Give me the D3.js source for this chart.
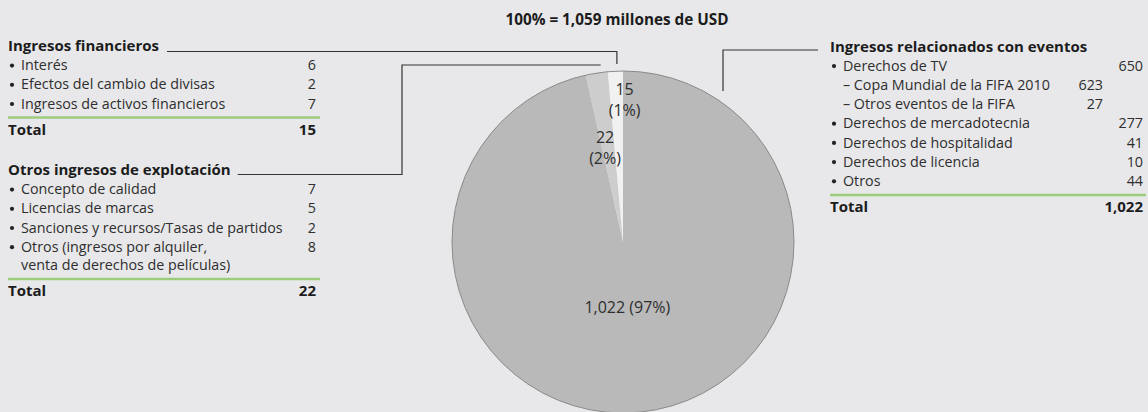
<!DOCTYPE html>
<html><head><meta charset="utf-8">
<script src="https://cdn.jsdelivr.net/npm/d3@7/dist/d3.min.js"></script>
<style>
html,body{margin:0;padding:0;background:#e8e8ea;}
svg{display:block;font-family:"Open Sans",sans-serif;}
</style></head>
<body><svg id="c" width="1148" height="412"></svg>
<script>
// ---- data ----
const title = "100% = 1,059 millones de USD";
const sliceNames = ["Ingresos relacionados con eventos", "Otros ingresos de explotación", "Ingresos financieros"];
const sliceValues = [1022, 22, 15];
const sliceValueLabels = ["1,022", "22", "15"];
const slicePcts = ["97%", "2%", "1%"];
const sliceColors = ["#b9b9b9", "#cdcdcd", "#f1f1f1"];

const finItems = ["Interés", "Efectos del cambio de divisas", "Ingresos de activos financieros"];
const finValues = ["6", "2", "7"];
const finTotal = "15";

const otrosItems = ["Concepto de calidad", "Licencias de marcas", "Sanciones y recursos/Tasas de partidos", "Otros (ingresos por alquiler,|venta de derechos de películas)"];
const otrosValues = ["7", "5", "2", "8"];
const otrosTotal = "22";

const eventItems = ["Derechos de TV", "Derechos de mercadotecnia", "Derechos de hospitalidad", "Derechos de licencia", "Otros"];
const eventValues = ["650", "277", "41", "10", "44"];
const tvSubItems = ["Copa Mundial de la FIFA 2010", "Otros eventos de la FIFA"];
const tvSubValues = ["623", "27"];
const eventTotal = "1,022";
const totalLabel = "Total";

// ---- drawing ----
const svg = d3.select("#c");
const cx = 623, cy = 242, R = 171;
const step = 19.2;
const textCol = "#2e2e2e", boldCol = "#1c1c1c", green = "#9ccd7c", lineCol = "#333";
const fs = 14.3, fsB = 15, fsTitle = 15.3, fsPie = 16;

svg.append("text").attr("x", 617).attr("y", 25).attr("text-anchor", "middle")
  .attr("font-weight", "bold").attr("font-size", fsTitle).attr("fill", boldCol).text(title);

// pie
const pie = d3.pie().sort(null).value(d => d)(sliceValues);
const arc = d3.arc().innerRadius(0).outerRadius(R);
const g = svg.append("g").attr("transform", `translate(${cx},${cy})`);
g.selectAll("path.s").data(pie).join("path").attr("class", "s")
  .attr("d", arc).attr("fill", (d, i) => sliceColors[i]);
g.append("circle").attr("r", R).attr("fill", "none").attr("stroke", "#8a8a8a").attr("stroke-width", 1);

// pie labels
const labelArcs = [
  d3.arc().innerRadius(R * 0.39).outerRadius(R * 0.39),
  d3.arc().innerRadius(R * 0.57).outerRadius(R * 0.57),
  d3.arc().innerRadius(R * 0.84).outerRadius(R * 0.84)
];
const nudges = [[-3, 0], [-3, 2], [8, 1]];
pie.forEach((d, i) => {
  const [x, y] = labelArcs[i].centroid(d);
  const t = g.append("text").attr("text-anchor", "middle").attr("font-size", fsPie).attr("fill", textCol);
  if (i === 0) {
    t.attr("x", x + nudges[i][0]).attr("y", y + nudges[i][1] + 5).text(`${sliceValueLabels[i]} (${slicePcts[i]})`);
  } else {
    t.append("tspan").attr("x", x + nudges[i][0]).attr("y", y + nudges[i][1] - 5).text(sliceValueLabels[i]);
    t.append("tspan").attr("x", x + nudges[i][0]).attr("y", y + nudges[i][1] + 16).text(`(${slicePcts[i]})`);
  }
});

// table helper
function table(x0, xNum, xEnd, yHead, head, items, values, total, subs) {
  const gt = svg.append("g");
  const h = gt.append("text").attr("x", x0).attr("y", yHead).attr("font-weight", "bold")
    .attr("font-size", fsB).attr("fill", boldCol).text(head);
  let y = yHead;
  items.forEach((it, i) => {
    y += step;
    const lines = it.split("|");
    gt.append("circle").attr("cx", x0 + 4).attr("cy", y - 4.6).attr("r", 2.1).attr("fill", "#222");
    gt.append("text").attr("x", xNum).attr("y", y).attr("text-anchor", "end").attr("font-size", fs).attr("fill", textCol).text(values[i]);
    lines.forEach((ln, k) => {
      if (k > 0) y += step * 0.95;
      gt.append("text").attr("x", x0 + 13).attr("y", y).attr("font-size", fs).attr("fill", textCol).text(ln);
    });
    if (subs && i === 0) {
      subs.items.forEach((s, j) => {
        y += step;
        gt.append("text").attr("x", x0 + 13).attr("y", y).attr("font-size", fs).attr("fill", textCol).text("– " + s);
        gt.append("text").attr("x", subs.xNum).attr("y", y).attr("text-anchor", "end").attr("font-size", fs).attr("fill", textCol).text(subs.values[j]);
      });
    }
  });
  const gy = y + 9;
  gt.append("line").attr("x1", x0).attr("x2", xEnd).attr("y1", gy).attr("y2", gy)
    .attr("stroke", green).attr("stroke-width", 2.5);
  gt.append("text").attr("x", x0).attr("y", gy + 17).attr("font-weight", "bold").attr("font-size", fsB).attr("fill", boldCol).text(totalLabel);
  gt.append("text").attr("x", xNum).attr("y", gy + 17).attr("text-anchor", "end").attr("font-weight", "bold").attr("font-size", fsB).attr("fill", boldCol).text(total);
  return h.node().getComputedTextLength();
}

const w1 = table(8, 316, 320, 51, sliceNames[2], finItems, finValues, finTotal);
const w2 = table(8, 316, 320, 175, sliceNames[1], otrosItems, otrosValues, otrosTotal);
table(830, 1143, 1146, 51.5, sliceNames[0], eventItems, eventValues, eventTotal,
  {items: tvSubItems, values: tvSubValues, xNum: 1103});

// connectors
const a15 = (pie[2].startAngle + pie[2].endAngle) / 2;
const a22 = (pie[1].startAngle + pie[1].endAngle) / 2;
const line = d3.line();
const lc = svg.append("g").attr("fill", "none").attr("stroke", lineCol).attr("stroke-width", 1.2);
lc.append("path").attr("d", line([[8 + w1 + 8, 51.5], [cx + R * Math.sin(a15) + 1.5, 51.5], [cx + R * Math.sin(a15) + 1.5, 64]]));
lc.append("path").attr("d", line([[8 + w2 + 7, 174.5], [402, 174.5], [402, 65], [cx + R * Math.sin(a22) + 4, 65]]));
lc.append("path").attr("d", line([[723, 91], [723, 50], [818, 50]]));
</script></body></html>
